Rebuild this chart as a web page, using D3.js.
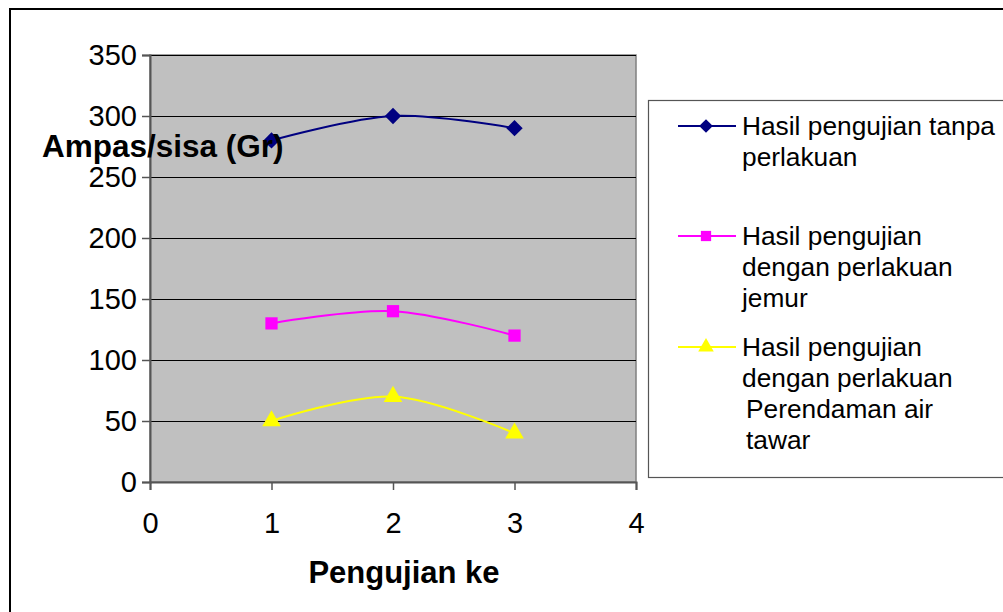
<!DOCTYPE html>
<html><head><meta charset="utf-8">
<script src="https://cdn.jsdelivr.net/npm/d3@7"></script>
<style>body{margin:0;background:#fff}svg{display:block;font-family:"Liberation Sans",Arial,sans-serif}</style>
</head><body>
<script>
const xValues = [1, 2, 3];
const seriesNames = ["Hasil pengujian tanpa perlakuan", "Hasil pengujian dengan perlakuan jemur", "Hasil pengujian dengan perlakuan Perendaman air tawar"];
const tanpa = [280, 300, 290];
const jemur = [130, 140, 120];
const rendam = [50, 70, 40];
const xTicks = [0, 1, 2, 3, 4];
const yTicks = [0, 50, 100, 150, 200, 250, 300, 350];
const legendLines = [["Hasil pengujian tanpa", "perlakuan"], ["Hasil pengujian", "dengan perlakuan", "jemur"], ["Hasil pengujian", "dengan perlakuan", " Perendaman air", " tawar"]];

const W = 1003, H = 612;
const svg = d3.select("body").append("svg").attr("width", W).attr("height", H);
svg.append("rect").attr("x", 10).attr("y", 9).attr("width", W + 20).attr("height", H + 20)
  .attr("fill", "#fff").attr("stroke", "#000").attr("stroke-width", 2);

const x = d3.scaleLinear().domain([0, 4]).range([150, 636]);
const y = d3.scaleLinear().domain([0, 350]).range([482, 55]);

svg.append("rect").attr("x", x(0)).attr("y", y(350)).attr("width", x(4) - x(0)).attr("height", y(0) - y(350))
  .attr("fill", "#C0C0C0").attr("stroke", "#808080").attr("stroke-width", 1.5);

svg.append("g").selectAll("line").data(yTicks.filter(d => d > 0)).join("line")
  .attr("x1", x(0)).attr("x2", x(4)).attr("y1", d => Math.round(y(d)) + 0.5).attr("y2", d => Math.round(y(d)) + 0.5)
  .attr("stroke", "#000").attr("stroke-width", 1);

const yAxis = svg.append("g").attr("transform", `translate(${x(0)},0)`)
  .call(d3.axisLeft(y).tickValues(yTicks).tickSize(8).tickPadding(5).tickFormat(d3.format("d")));
const xAxis = svg.append("g").attr("transform", `translate(0,${y(0)})`)
  .call(d3.axisBottom(x).tickValues(xTicks).tickSize(8).tickPadding(22).tickFormat(d3.format("d")));
[yAxis, xAxis].forEach(a => {
  a.select(".domain").attr("stroke", "#555").attr("stroke-width", 2);
  a.selectAll(".tick line").attr("stroke", "#555").attr("stroke-width", 1.5);
  a.selectAll("text").attr("font-size", 29).attr("fill", "#000").attr("font-family", '"Liberation Sans",Arial,sans-serif');
});

const diamond = { draw(ctx, size) { const r = Math.sqrt(size) / 1.45; ctx.moveTo(0, -r); ctx.lineTo(r, 0); ctx.lineTo(0, r); ctx.lineTo(-r, 0); ctx.closePath(); } };
const series = [
  {vals: tanpa, color: "#000080", shape: diamond, size: 140},
  {vals: jemur, color: "#FF00FF", shape: d3.symbolSquare, size: 150},
  {vals: rendam, color: "#FFFF00", shape: d3.symbolTriangle, size: 150}
];
const line = d3.line().x(d => x(d[0])).y(d => y(d[1])).curve(d3.curveCatmullRom.alpha(0.5));
series.forEach(s => {
  const pts = xValues.map((v, i) => [v, s.vals[i]]);
  svg.append("path").attr("d", line(pts)).attr("fill", "none").attr("stroke", s.color).attr("stroke-width", 2);
  svg.append("g").selectAll("path").data(pts).join("path")
    .attr("d", d3.symbol().type(s.shape).size(s.size))
    .attr("transform", d => `translate(${x(d[0])},${y(d[1])})`)
    .attr("fill", s.color);
});

svg.append("text").attr("x", 42).attr("y", 157).attr("font-size", 31.5).attr("font-weight", "bold").text("Ampas/sisa (Gr)");
svg.append("text").attr("x", 404).attr("y", 583).attr("text-anchor", "middle").attr("font-size", 31).attr("font-weight", "bold").text("Pengujian ke");

// legend
svg.append("rect").attr("x", 648.5).attr("y", 100.5).attr("width", 400).attr("height", 377)
  .attr("fill", "#fff").attr("stroke", "#555").attr("stroke-width", 1.2);
const rowY = [126, 236, 347];
series.forEach((s, i) => {
  const g = svg.append("g");
  g.append("line").attr("x1", 678).attr("x2", 736).attr("y1", rowY[i]).attr("y2", rowY[i]).attr("stroke", s.color).attr("stroke-width", 2);
  g.append("path").attr("d", d3.symbol().type(s.shape).size(s.size * 0.7)).attr("transform", `translate(706,${rowY[i]})`).attr("fill", s.color);
  const t = g.append("text").attr("x", 742).attr("y", rowY[i] + 9).attr("font-size", 26.3);
  legendLines[i].forEach((ln, j) => {
    t.append("tspan").attr("x", ln.startsWith(" ") ? 746 : 742).attr("dy", j === 0 ? 0 : 31).text(ln.trim());
  });
});
</script>
</body></html>
